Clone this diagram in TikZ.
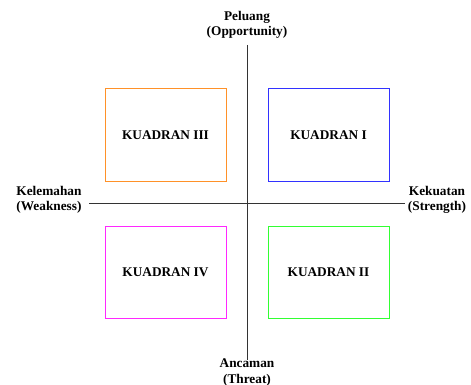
\documentclass[tikz,border=0pt]{standalone}
\usepackage{fontspec}
\setmainfont{Liberation Serif}

\definecolor{kuadorange}{RGB}{255,145,40}
\definecolor{kuadblue}{RGB}{50,50,255}
\definecolor{kuadmagenta}{RGB}{255,40,255}
\definecolor{kuadgreen}{RGB}{50,255,50}

\begin{document}
\begin{tikzpicture}[x=1pt,y=-1pt]
				\tikzstyle{every node} = [font=\bfseries\fontsize{13.3}{15.5}\selectfont];
				\tikzstyle{kuadran} = [draw,line width=1pt,minimum width=121pt,minimum height=92pt];
				\tikzstyle{axislabel} = [align=center,inner sep=0pt];
				\useasboundingbox (0,0) rectangle (471,385);
				\node[kuadran,draw=kuadorange] (k3) at (165.5,135) {KUADRAN III};
				\node[kuadran,draw=kuadblue] (k1) at (328.5,135) {KUADRAN I};
				\node[kuadran,draw=kuadmagenta] (k4) at (165.5,272) {KUADRAN IV};
				\node[kuadran,draw=kuadgreen] (k2) at (328.5,272) {KUADRAN II};
				\node[axislabel] (peluang) at (247,25) {Peluang\\(Opportunity)};
				\node[axislabel] (ancaman) at (247,372.5) {Ancaman\\(Threat)};
				\node[axislabel] (kelemahan) at (49,200) {Kelemahan\\(Weakness)};
				\node[axislabel] (kekuatan) at (437,200) {Kekuatan\\(Strength)};
				\coordinate (top) at (247,45);
				\coordinate (bottom) at (247,360);
				\coordinate (left) at (89,203);
				\coordinate (right) at (405,203);
				\draw[line width=0.9pt,black!80] (top) -- (bottom);
				\draw[line width=0.9pt,black!80] (left) -- (right);
			\end{tikzpicture}
\end{document}
